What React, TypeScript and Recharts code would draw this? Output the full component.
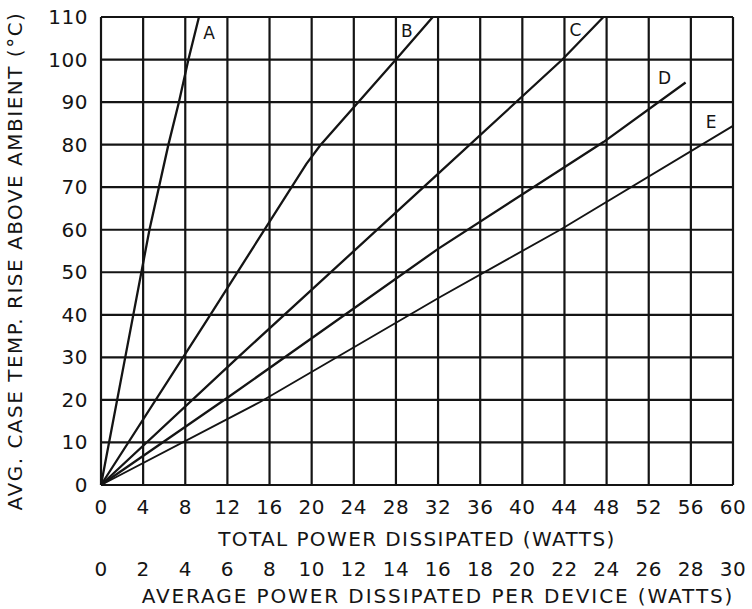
import { LineChart, Line, XAxis, YAxis, CartesianGrid, Label } from "recharts";

// (total watts -> deg C rise)
const totalTicks = [0, 4, 8, 12, 16, 20, 24, 28, 32, 36, 40, 44, 48, 52, 56, 60];
const deviceTicks = [0, 2, 4, 6, 8, 10, 12, 14, 16, 18, 20, 22, 24, 26, 28, 30];
const tempTicks = [0, 10, 20, 30, 40, 50, 60, 70, 80, 90, 100, 110];

const names = ["A", "B", "C", "D", "E"];
const wattsA = [0, 2.3, 4.6, 6.4, 7.4, 8.3, 9.3];
const riseA = [0, 30, 60, 80, 90, 100, 110];
const wattsB = [0, 10, 19.5, 20.8, 28, 31.5];
const riseB = [0, 38.5, 75.5, 79.8, 100, 110];
const wattsC = [0, 13, 31.5, 43.8, 47.7];
const riseC = [0, 30, 72, 100, 110];
const wattsD = [0, 12, 32, 47.7, 55.5];
const riseD = [0, 20.5, 55.5, 80.6, 94.6];
const wattsE = [0, 15.1, 32.2, 43.6, 60];
const riseE = [0, 19.5, 44.2, 60, 84.4];

const zip = (xs: number[], ys: number[]) => xs.map((x, i) => ({ x, y: ys[i] }));
const series = [zip(wattsA, riseA), zip(wattsB, riseB), zip(wattsC, riseC), zip(wattsD, riseD), zip(wattsE, riseE)];

// where the letter sits relative to the end of its line
const labelOffsets = [[10, 16], [-26, 14], [-28, 13], [-21, -5], [-22, -4]];
const widths = [2.3, 2.3, 2.3, 2.3, 1.9];

const FONT = "'DejaVu Sans', sans-serif";
const INK = "#141414";

const XTick = ({ x, y, payload }: any) => (
  <text x={x} y={y + 29} textAnchor="middle" fontFamily={FONT} fontSize={20} fill={INK} letterSpacing={0.5}>
    {payload.value}
  </text>
);

const YTick = ({ y, payload }: any) => (
  <text x={88} y={y + 7} textAnchor="end" fontFamily={FONT} fontSize={20} fill={INK} letterSpacing={0.5}>
    {payload.value}
  </text>
);

export default function App() {
  return (
    <div style={{ position: "absolute", left: 0, top: 0, width: 752, height: 609, background: "#fff" }}>
      <LineChart width={752} height={609} margin={{ top: 17, right: 19, left: 0, bottom: 0 }}>
        <CartesianGrid xAxisId="a_total" stroke={INK} strokeWidth={2.2} />
        <XAxis
          xAxisId="a_total"
          dataKey="x"
          type="number"
          domain={[0, 60]}
          ticks={totalTicks}
          interval={0}
          height={62}
          axisLine={false}
          tickLine={false}
          tickSize={0}
          tickMargin={0}
          tick={<XTick />}
        >
          <Label
            content={({ viewBox }: any) => (
              <text x={viewBox.x + viewBox.width / 2} y={viewBox.y + 61} textAnchor="middle" fontFamily={FONT} fontSize={20} fill={INK} letterSpacing={1.4}>
                TOTAL POWER DISSIPATED (WATTS)
              </text>
            )}
          />
        </XAxis>
        <XAxis
          xAxisId="b_device"
          dataKey="x"
          type="number"
          domain={[0, 30]}
          allowDataOverflow
          ticks={deviceTicks}
          interval={0}
          height={62}
          axisLine={false}
          tickLine={false}
          tickSize={0}
          tickMargin={0}
          tick={<XTick />}
        >
          <Label
            content={({ viewBox }: any) => (
              <text x={viewBox.x + viewBox.width / 2 + 21} y={viewBox.y + 56} textAnchor="middle" fontFamily={FONT} fontSize={20} fill={INK} letterSpacing={1.9}>
                AVERAGE POWER DISSIPATED PER DEVICE (WATTS)
              </text>
            )}
          />
        </XAxis>
        <YAxis
          type="number"
          domain={[0, 110]}
          ticks={tempTicks}
          interval={0}
          width={101}
          axisLine={false}
          tickLine={false}
          tickSize={0}
          tick={<YTick />}
        >
          <Label
            content={() => (
              <text
                x={15}
                y={261}
                transform="rotate(-90 15 261)"
                dy={7}
                textAnchor="middle"
                fontFamily={FONT}
                fontSize={20}
                fill={INK}
                letterSpacing={1.5}
              >
                AVG. CASE TEMP. RISE ABOVE AMBIENT (°C)
              </text>
            )}
          />
        </YAxis>
        {series.map((d, i) => (
          <Line
            key={names[i]}
            xAxisId="a_total"
            data={d}
            dataKey="y"
            type="linear"
            stroke={INK}
            strokeWidth={widths[i]}
            dot={false}
            isAnimationActive={false}
            label={(p: any) =>
              p.index === d.length - 1 ? (
                <text
                  key={names[i]}
                  x={p.x + labelOffsets[i][0]}
                  y={p.y + labelOffsets[i][1] + 6}
                  textAnchor="middle"
                  fontFamily={FONT}
                  fontSize={17}
                  fill={INK}
                >
                  {names[i]}
                </text>
              ) : (
                <g key={i + "-" + p.index} />
              )
            }
          />
        ))}
      </LineChart>
    </div>
  );
}
